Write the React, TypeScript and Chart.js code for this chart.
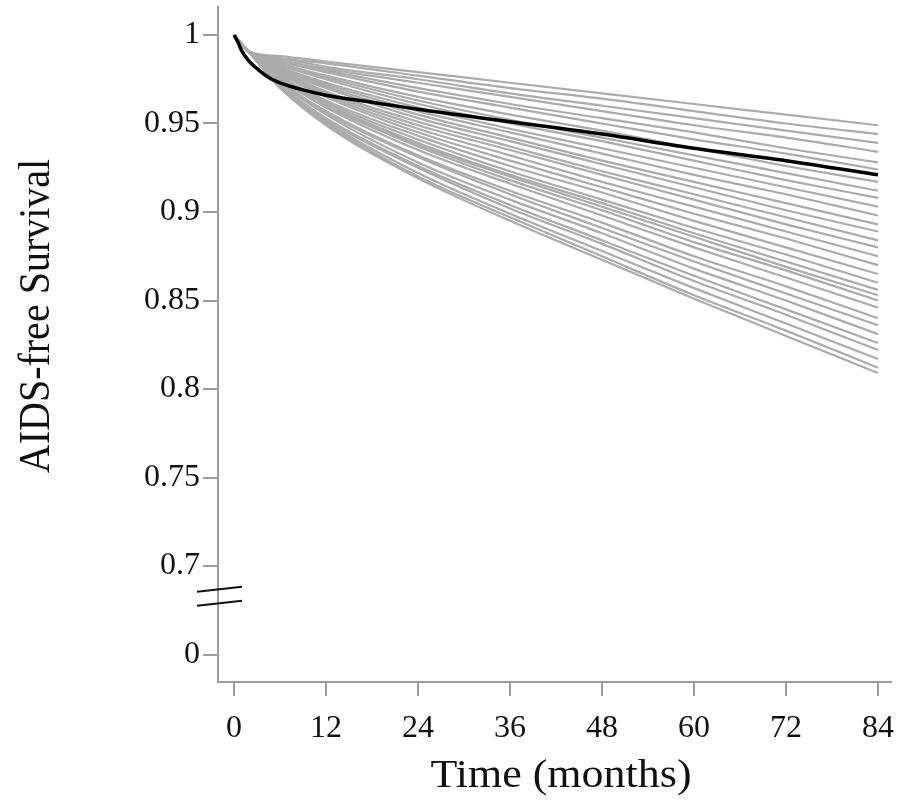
import { useEffect, useRef } from "react";
import { Chart, registerables } from "chart.js";

Chart.register(...registerables);

// Follow-up times (months) at which the individual predicted curves are evaluated
const months = [0, 1.8, 6, 12, 24, 36, 48, 60, 72, 84];

// Individual predicted AIDS-free survival curves (one row per patient profile)
const greyCurves = [
  [1, 0.991, 0.988, 0.985, 0.979, 0.973, 0.967, 0.961, 0.955, 0.949],
  [1, 0.991, 0.987, 0.984, 0.977, 0.970, 0.964, 0.957, 0.950, 0.944],
  [1, 0.991, 0.987, 0.982, 0.975, 0.967, 0.960, 0.953, 0.946, 0.939],
  [1, 0.991, 0.986, 0.981, 0.973, 0.965, 0.957, 0.949, 0.942, 0.934],
  [1, 0.991, 0.985, 0.980, 0.970, 0.961, 0.953, 0.945, 0.936, 0.928],
  [1, 0.991, 0.985, 0.979, 0.968, 0.959, 0.950, 0.941, 0.933, 0.924],
  [1, 0.991, 0.984, 0.977, 0.965, 0.955, 0.946, 0.936, 0.926, 0.917],
  [1, 0.991, 0.983, 0.976, 0.963, 0.952, 0.942, 0.932, 0.922, 0.912],
  [1, 0.991, 0.983, 0.975, 0.961, 0.950, 0.940, 0.929, 0.918, 0.908],
  [1, 0.991, 0.982, 0.973, 0.959, 0.947, 0.936, 0.925, 0.914, 0.903],
  [1, 0.991, 0.981, 0.972, 0.957, 0.945, 0.933, 0.921, 0.910, 0.898],
  [1, 0.991, 0.981, 0.971, 0.955, 0.942, 0.929, 0.917, 0.905, 0.893],
  [1, 0.991, 0.980, 0.970, 0.953, 0.940, 0.927, 0.914, 0.901, 0.889],
  [1, 0.991, 0.980, 0.968, 0.951, 0.937, 0.923, 0.910, 0.897, 0.884],
  [1, 0.991, 0.979, 0.967, 0.949, 0.935, 0.921, 0.907, 0.893, 0.880],
  [1, 0.991, 0.979, 0.966, 0.947, 0.932, 0.917, 0.903, 0.889, 0.875],
  [1, 0.991, 0.978, 0.965, 0.945, 0.929, 0.914, 0.899, 0.885, 0.870],
  [1, 0.991, 0.977, 0.963, 0.943, 0.926, 0.911, 0.895, 0.880, 0.865],
  [1, 0.991, 0.977, 0.962, 0.941, 0.923, 0.907, 0.891, 0.876, 0.860],
  [1, 0.991, 0.976, 0.961, 0.939, 0.921, 0.905, 0.888, 0.872, 0.856],
  [1, 0.991, 0.976, 0.960, 0.938, 0.920, 0.903, 0.886, 0.869, 0.853],
  [1, 0.991, 0.975, 0.960, 0.937, 0.918, 0.901, 0.883, 0.867, 0.850],
  [1, 0.991, 0.975, 0.959, 0.935, 0.916, 0.898, 0.880, 0.863, 0.846],
  [1, 0.991, 0.974, 0.957, 0.932, 0.912, 0.894, 0.875, 0.858, 0.840],
  [1, 0.991, 0.974, 0.956, 0.931, 0.910, 0.891, 0.872, 0.854, 0.836],
  [1, 0.991, 0.973, 0.955, 0.928, 0.907, 0.888, 0.868, 0.850, 0.831],
  [1, 0.991, 0.972, 0.953, 0.926, 0.904, 0.884, 0.864, 0.845, 0.826],
  [1, 0.991, 0.972, 0.952, 0.925, 0.902, 0.882, 0.861, 0.842, 0.822],
  [1, 0.991, 0.971, 0.951, 0.922, 0.899, 0.878, 0.857, 0.837, 0.817],
  [1, 0.991, 0.970, 0.950, 0.920, 0.897, 0.875, 0.853, 0.833, 0.812],
  [1, 0.991, 0.970, 0.949, 0.919, 0.895, 0.873, 0.851, 0.830, 0.809],
];

// Population-average (baseline) survival curve
const baselineMonths = [0, 0.5, 1, 2, 3, 4.5, 6, 9, 12, 18, 24, 36, 48, 60, 72, 84];
const baselineSurvival = [
  1, 0.996, 0.991, 0.985, 0.981, 0.976, 0.973, 0.969, 0.966, 0.962, 0.958,
  0.951, 0.944, 0.936, 0.929, 0.921,
];

// Axis ticks; the lowest y tick sits below the axis break and is labelled 0
const xTickValues = [0, 12, 24, 36, 48, 60, 72, 84];
const yTickValues = [0.65, 0.7, 0.75, 0.8, 0.85, 0.9, 0.95, 1];
const yTickLabels = ["0", "0.7", "0.75", "0.8", "0.85", "0.9", "0.95", "1"];

const xAxisTitle = "Time (months)";
const yAxisTitle = "AIDS-free Survival";

const AXIS_BREAK_AT = 0.683;
const FONT_FAMILY = '"Liberation Serif", "Times New Roman", serif';
const AXIS_GREY = "#9c9c9c";
const CURVE_GREY = "#ababab";
const INK = "#111111";
const TITLE_STRETCH = 1.1;

const axisDecorations = {
  id: "axisDecorations",
  afterDraw(chart: Chart) {
    const { ctx } = chart;
    const x = chart.scales.x;
    const y = chart.scales.y;
    ctx.save();

    // double slash marking the break in the y axis
    const breakY = y.getPixelForValue(AXIS_BREAK_AT);
    const axisX = x.left;
    ctx.strokeStyle = INK;
    ctx.lineWidth = 2;
    for (const dy of [-7, 7]) {
      ctx.beginPath();
      ctx.moveTo(axisX - 21, breakY + dy + 2.5);
      ctx.lineTo(axisX + 24, breakY + dy - 2.5);
      ctx.stroke();
    }

    // axis titles (set slightly wide, like the tick lettering)
    ctx.fillStyle = INK;
    ctx.font = `40px ${FONT_FAMILY}`;
    ctx.textAlign = "center";
    ctx.textBaseline = "middle";

    ctx.save();
    ctx.translate(561, 776);
    ctx.scale(TITLE_STRETCH, 1);
    ctx.fillText(xAxisTitle, 0, 0);
    ctx.restore();

    ctx.save();
    ctx.translate(37, 316);
    ctx.scale(TITLE_STRETCH, 1);
    ctx.rotate(-Math.PI / 2);
    ctx.fillText(yAxisTitle, 0, 0);
    ctx.restore();

    ctx.restore();
  },
};

export default function App() {
  const canvasRef = useRef<HTMLCanvasElement | null>(null);

  useEffect(() => {
    const canvas = canvasRef.current;
    if (!canvas) return;

    const greyDatasets = greyCurves.map((curve, i) => ({
      label: `profile ${i + 1}`,
      data: months.map((m, j) => ({ x: m, y: curve[j] })),
      borderColor: CURVE_GREY,
      borderWidth: 2.2,
      pointRadius: 0,
      fill: false,
      cubicInterpolationMode: "monotone" as const,
      order: 1,
    }));

    const chart = new Chart(canvas, {
      type: "line",
      data: {
        datasets: [
          {
            label: "baseline",
            data: baselineMonths.map((m, j) => ({ x: m, y: baselineSurvival[j] })),
            borderColor: "#000000",
            borderWidth: 3.5,
            pointRadius: 0,
            fill: false,
            cubicInterpolationMode: "monotone",
            order: 0,
          },
          ...greyDatasets,
        ],
      },
      options: {
        responsive: false,
        animation: false,
        layout: { padding: { top: 7, right: 8, left: 0, bottom: 0 } },
        plugins: {
          legend: { display: false },
          tooltip: { enabled: false },
          title: { display: false },
        },
        scales: {
          x: {
            type: "linear",
            min: -2.1,
            max: 85.7,
            afterBuildTicks: (scale: any) => {
              scale.ticks = xTickValues.map((v) => ({ value: v }));
            },
            afterFit: (scale: any) => {
              scale.height = 128;
              scale.paddingLeft = 0;
              scale.paddingRight = 0;
            },
            ticks: {
              color: INK,
              font: { family: FONT_FAMILY, size: 32 },
              padding: 13,
              maxRotation: 0,
              autoSkip: false,
            },
            grid: {
              drawOnChartArea: false,
              drawTicks: true,
              tickLength: 14,
              color: AXIS_GREY,
              lineWidth: 2,
            },
            border: { display: true, color: AXIS_GREY, width: 2 },
          },
          y: {
            type: "linear",
            min: 0.6345,
            max: 1.0158,
            afterBuildTicks: (scale: any) => {
              scale.ticks = yTickValues.map((v) => ({ value: v }));
            },
            afterFit: (scale: any) => {
              scale.width = 218;
              scale.paddingTop = 0;
              scale.paddingBottom = 0;
            },
            ticks: {
              color: INK,
              font: { family: FONT_FAMILY, size: 32 },
              padding: 3,
              autoSkip: false,
              callback: (_v: any, index: number) => yTickLabels[index],
            },
            grid: {
              drawOnChartArea: false,
              drawTicks: true,
              tickLength: 15,
              color: AXIS_GREY,
              lineWidth: 2,
            },
            border: { display: true, color: AXIS_GREY, width: 2 },
          },
        },
      },
      plugins: [axisDecorations],
    });

    return () => chart.destroy();
  }, []);

  return (
    <div style={{ position: "fixed", left: 0, top: 0, width: 899, height: 810, background: "#fff" }}>
      <canvas ref={canvasRef} width={899} height={810} />
    </div>
  );
}
